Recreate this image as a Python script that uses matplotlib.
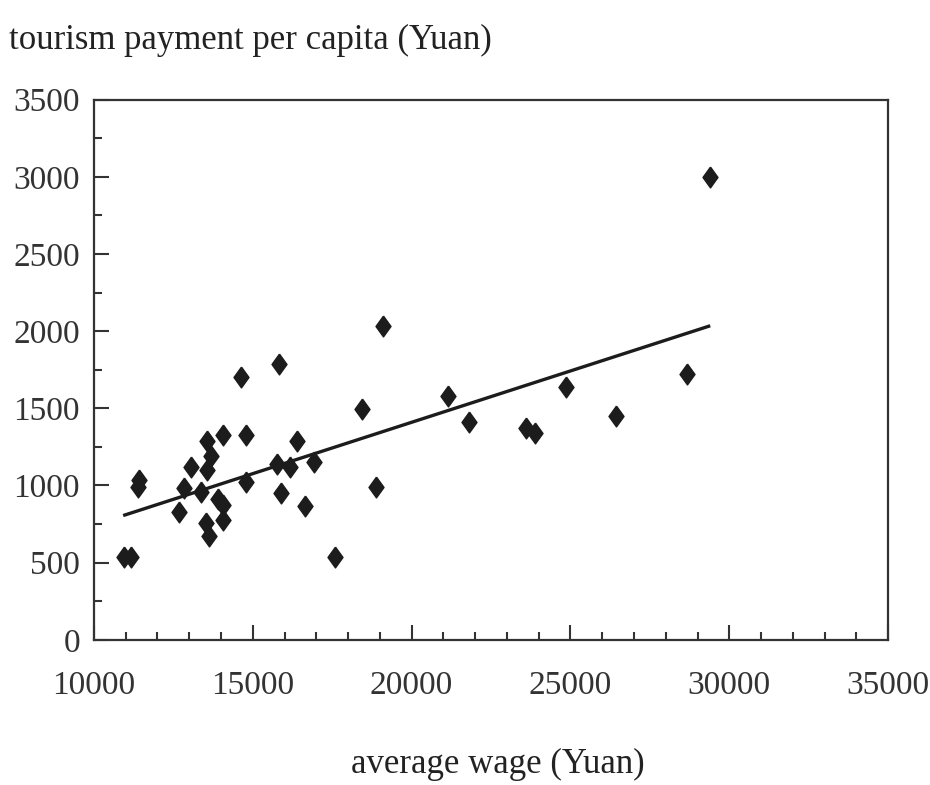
import numpy as np
import matplotlib.pyplot as plt
from matplotlib.ticker import MultipleLocator

plt.rcParams['font.family'] = ['Liberation Serif', 'DejaVu Serif']

# average wage (Yuan) vs tourism payment per capita (Yuan)
wage = [10950, 11180, 11380, 11430, 12680, 12830, 13050, 13380, 13560, 13700,
        13560, 13540, 13620, 13900, 14070, 14070, 14070, 14640, 14800, 14800,
        15750, 15820, 15880, 16160, 16400, 16640, 16920, 17580, 18450, 18870,
        19100, 21160, 21800, 23610, 23870, 24870, 26420, 28660, 29400]
payment = [535, 535, 990, 1035, 825, 985, 1120, 955, 1290, 1190,
           1100, 755, 675, 910, 875, 775, 1325, 1700, 1325, 1025,
           1140, 1785, 950, 1120, 1290, 870, 1150, 535, 1495, 990,
           2035, 1580, 1410, 1370, 1340, 1640, 1450, 1720, 3000]

# trend line end points
trend_x = [10920, 29400]
trend_y = [805, 2035]

ink = '#1c1c1c'
diamond = [(0, 1), (0.72, 0), (0, -1), (-0.72, 0), (0, 1)]

fig = plt.figure(figsize=(9.3, 7.85), dpi=100)
ax = fig.add_axes([0.101, 0.185, 0.854, 0.688])

ax.plot(wage, payment, linestyle='none', marker=diamond, markersize=15,
        color=ink, markeredgecolor=ink)
ax.plot(trend_x, trend_y, color=ink, linewidth=2.4, solid_capstyle='butt')

ax.set_xlim(10000, 35000)
ax.set_ylim(0, 3500)
ax.xaxis.set_major_locator(MultipleLocator(5000))
ax.xaxis.set_minor_locator(MultipleLocator(1000))
ax.yaxis.set_major_locator(MultipleLocator(500))
ax.yaxis.set_minor_locator(MultipleLocator(250))

for s in ax.spines.values():
    s.set_linewidth(1.6)
    s.set_color('#333333')

ax.tick_params(which='both', direction='in', top=False, right=False,
               color='#333333', width=1.5)
ax.tick_params(which='major', length=11, labelsize=24, labelcolor='#333333')
ax.tick_params(which='minor', length=6)
ax.tick_params(axis='x', which='major', pad=22)
ax.tick_params(axis='y', which='major', pad=10)

fig.text(0.01, 0.949, 'tourism payment per capita (Yuan)', fontsize=25,
         color='#222222', ha='left', va='center')
fig.text(0.535, 0.026, 'average wage (Yuan)', fontsize=25,
         color='#222222', ha='center', va='center')

fig.savefig('out.png', dpi=100)
